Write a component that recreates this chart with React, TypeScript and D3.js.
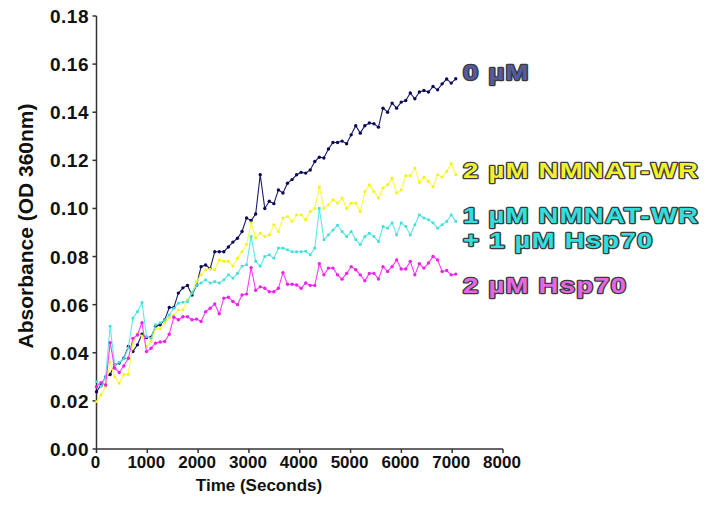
import React from "react";
import * as d3 from "d3";

const INTERVAL = 89.5; // seconds between readings

const navy0uM = [0.0238,0.0266,0.030,0.031,0.035,0.0357,0.0377,0.0426,0.0405,0.0433,
0.0477,0.0463,0.0465,0.051,0.0516,0.0537,0.0588,0.0588,0.0648,0.067,
0.068,0.064,0.068,0.0758,0.0765,0.075,0.082,0.082,0.082,0.084,
0.086,0.0876,0.0904,0.096,0.095,0.0977,0.114,0.100,0.103,0.102,
0.1077,0.1064,0.1105,0.112,0.114,0.115,0.1147,0.116,0.1195,0.1213,
0.121,0.1247,0.1274,0.1274,0.128,0.1269,0.1306,0.1344,0.1313,0.1344,
0.1355,0.1352,0.1338,0.1417,0.140,0.1438,0.1417,0.1442,0.1449,0.148,
0.1456,0.1484,0.149,0.1484,0.1507,0.1493,0.1518,0.1538,0.1521,0.1539];

const nmnat2uM = [0.0197,0.0225,0.026,0.036,0.030,0.0273,0.031,0.031,0.044,0.048,
0.047,0.0426,0.0447,0.050,0.050,0.0524,0.0545,0.0557,0.0578,0.0578,
0.062,0.0648,0.0696,0.0724,0.0745,0.0748,0.0745,0.0786,0.078,0.078,
0.076,0.0793,0.082,0.085,0.094,0.0877,0.0897,0.0883,0.089,0.0932,
0.0904,0.096,0.0966,0.0946,0.0973,0.0973,0.0953,0.0987,0.100,0.1089,
0.100,0.1015,0.1036,0.1022,0.1043,0.100,0.1022,0.1022,0.0987,0.107,
0.1098,0.107,0.1043,0.1085,0.1098,0.1126,0.1064,0.1077,0.1136,0.1136,
0.1168,0.1108,0.113,0.1112,0.109,0.114,0.113,0.1154,0.1186,0.114];

const mixed1uM = [0.028,0.026,0.030,0.051,0.035,0.036,0.0375,0.042,0.0544,0.0571,
0.0609,0.0467,0.046,0.0516,0.0524,0.0537,0.0557,0.0585,0.0606,0.061,
0.0613,0.065,0.068,0.069,0.0703,0.069,0.0696,0.069,0.0703,0.0724,
0.071,0.073,0.076,0.0766,0.0883,0.078,0.076,0.080,0.0807,0.0793,
0.0835,0.0835,0.0828,0.082,0.082,0.082,0.0822,0.0807,0.0835,0.100,
0.087,0.089,0.091,0.093,0.0904,0.0883,0.0904,0.087,0.085,0.0883,
0.0897,0.0883,0.0862,0.0925,0.0918,0.094,0.089,0.094,0.0925,0.089,
0.0932,0.0973,0.096,0.0953,0.094,0.0918,0.0932,0.0946,0.0973,0.0946];

const hsp2uM = [0.0259,0.0276,0.0266,0.0442,0.0336,0.0318,0.0345,0.0377,0.046,0.0474,
0.0525,0.0405,0.0419,0.044,0.0445,0.0447,0.0477,0.0548,0.0537,0.055,
0.055,0.0537,0.054,0.053,0.0571,0.0585,0.0603,0.0562,0.0627,0.0631,
0.0613,0.060,0.064,0.0644,0.0754,0.066,0.0674,0.0668,0.0654,0.0654,
0.0668,0.0733,0.0685,0.0685,0.0682,0.0668,0.069,0.068,0.068,0.077,
0.0724,0.0752,0.0752,0.0724,0.0706,0.073,0.0758,0.0745,0.0724,0.0699,
0.073,0.073,0.0707,0.0758,0.0738,0.0758,0.0786,0.0748,0.0748,0.078,
0.0724,0.077,0.0752,0.0773,0.080,0.0786,0.0738,0.0742,0.0724,0.0727];

const xTicks = [0, 1000, 2000, 3000, 4000, 5000, 6000, 7000, 8000];
const yTicks = [0, 0.02, 0.04, 0.06, 0.08, 0.1, 0.12, 0.14, 0.16, 0.18];

const seriesDefs = [
  { key: "0", values: navy0uM, line: "#1a1a70", marker: "#0a0a55", shape: "circle", labels: ["0 µM"], fill: "#565aa2", labelY: [80] },
  { key: "y", values: nmnat2uM, line: "#ffff3a", marker: "#f2f21a", shape: "square", labels: ["2 µM NMNAT-WR"], fill: "#f2f22a", labelY: [178] },
  { key: "c", values: mixed1uM, line: "#5ee8e8", marker: "#3fdede", shape: "square", labels: ["1 µM NMNAT-WR", "+ 1 µM Hsp70"], fill: "#2fe0e0", labelY: [223, 248] },
  { key: "p", values: hsp2uM, line: "#ff3cff", marker: "#f020f0", shape: "circle", labels: ["2 µM Hsp70"], fill: "#e468e4", labelY: [293] },
];

export default function App() {
  const x = d3.scaleLinear().domain([0, 8000]).range([96.5, 503]);
  const y = d3.scaleLinear().domain([0, 0.18]).range([449, 16]);
  const font = "'Liberation Sans', Arial, Helvetica, sans-serif";
  const line = d3
    .line<number>()
    .x((_, i) => x(i * INTERVAL))
    .y((d) => y(d));

  return (
    <svg
      width={710}
      height={507}
      style={{ position: "absolute", left: 0, top: 0, background: "#fff" }}
      fontFamily={font}
    >
      <rect width={710} height={507} fill="#fff" />
      {/* axes */}
      <g stroke="#333" strokeWidth={1.5} fill="none">
        <line x1={x(0)} x2={x(0)} y1={y(0.18)} y2={y(0)} />
        <line x1={x(0)} x2={x(8000)} y1={y(0)} y2={y(0)} />
        {yTicks.map((t) => (
          <line key={"yt" + t} x1={x(0) - 4} x2={x(0)} y1={y(t)} y2={y(t)} />
        ))}
        {xTicks.map((t) => (
          <line key={"xt" + t} x1={x(t)} x2={x(t)} y1={y(0)} y2={y(0) + 4} />
        ))}
      </g>
      <g fontWeight="bold" fontSize={19} fill="#111" textAnchor="end">
        {yTicks.map((t) => (
          <text key={"yl" + t} x={89} y={y(t) + 7} letterSpacing={0.5}>
            {d3.format(".2f")(t)}
          </text>
        ))}
      </g>
      <g fontWeight="bold" fontSize={17} fill="#111" textAnchor="middle">
        {xTicks.map((t) => (
          <text key={"xl" + t} x={x(t) - 1} y={468}>
            {t}
          </text>
        ))}
      </g>
      <text x={259} y={491} fontWeight="bold" fontSize={17} textAnchor="middle" fill="#111">
        Time (Seconds)
      </text>
      <text
        transform={`translate(33,226) rotate(-90)`}
        fontWeight="bold"
        fontSize={21}
        textAnchor="middle"
        fill="#111"
      >
        Absorbance (OD 360nm)
      </text>

      {/* series */}
      {seriesDefs.map((s) => (
        <g key={s.key}>
          <path d={line(s.values) || ""} fill="none" stroke={s.line} strokeWidth={1.1} />
          {s.values.map((v, i) =>
            s.shape === "circle" ? (
              <circle key={i} cx={x(i * INTERVAL)} cy={y(v)} r={1.7} fill={s.marker} />
            ) : (
              <rect key={i} x={x(i * INTERVAL) - 1.3} y={y(v) - 1.3} width={2.6} height={2.6} fill={s.marker} />
            )
          )}
        </g>
      ))}

      {/* labels */}
      {seriesDefs.map((s) =>
        s.labels.map((lab, j) => (
          <text
            key={s.key + j}
            transform={`translate(463,${s.labelY[j]}) scale(1.25,1)`}
            fontWeight="bold"
            fontSize={22}
            letterSpacing={1}
            fill={s.fill}
            stroke="#3a3a3a"
            strokeWidth={2.4}
            strokeLinejoin="round"
            style={{ paintOrder: "stroke" }}
          >
            {lab}
          </text>
        ))
      )}
    </svg>
  );
}
